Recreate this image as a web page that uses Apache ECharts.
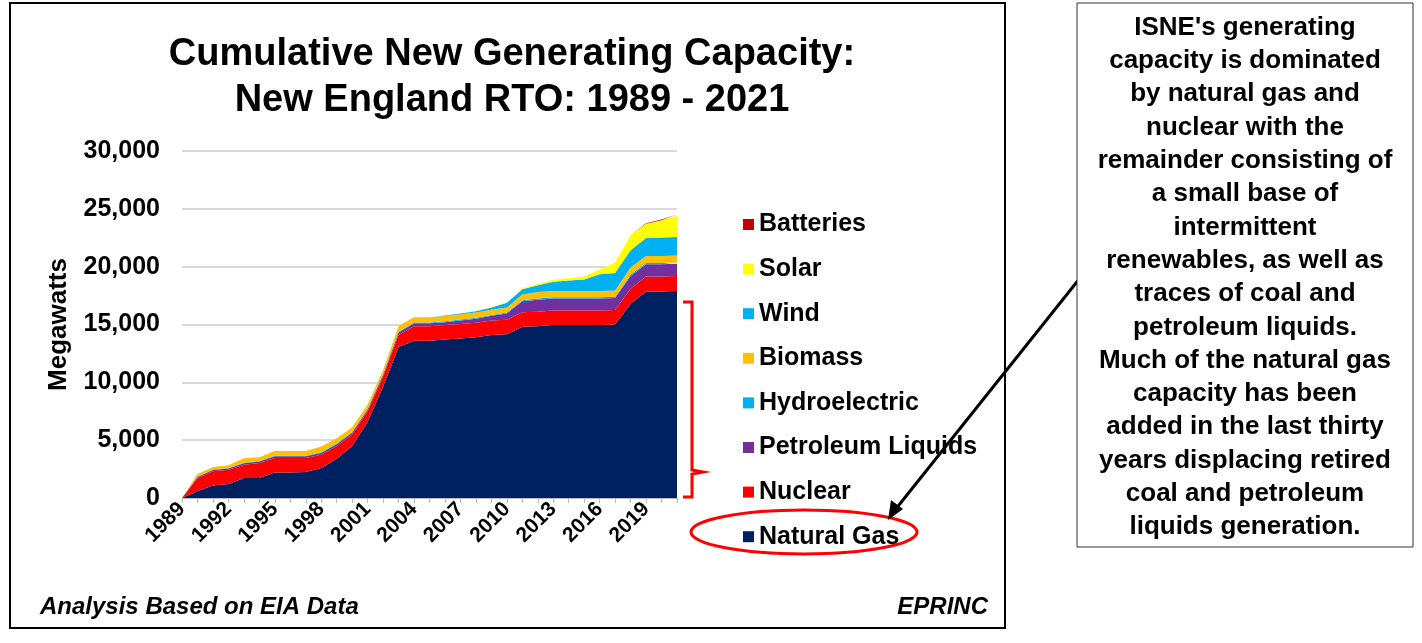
<!DOCTYPE html>
<html><head><meta charset="utf-8">
<script src="https://cdn.jsdelivr.net/npm/echarts@6/dist/echarts.min.js"></script>
<style>html,body{margin:0;padding:0;background:#fff}#c{width:1422px;height:643px}</style>
</head><body><div id="c"></div>
<script>
// 数据
var years = [];
for (var y = 1989; y <= 2021; y++) years.push(String(y));
var naturalGas = [0,600,1070,1200,1730,1730,2200,2200,2250,2600,3400,4500,6600,9650,13050,13600,13600,13700,13800,13900,14100,14150,14800,14850,14950,14950,14950,14950,15000,16800,17850,17850,17900];
var nuclear = [0,1130,1250,1250,1150,1300,1250,1250,1200,1150,1100,1000,900,850,1050,1250,1250,1250,1250,1250,1250,1250,1250,1250,1250,1250,1250,1250,1250,1300,1300,1300,1300];
var petroleum = [0,80,100,100,120,120,150,150,150,150,150,150,150,150,200,250,250,250,300,350,400,550,950,1050,1050,1050,1050,1050,1050,1100,1050,1050,1050];
var hydro = [0,40,40,40,50,50,60,60,60,60,60,60,60,60,70,80,80,80,80,80,80,80,100,100,100,100,100,100,100,120,120,120,120];
var biomass = [0,230,210,250,380,330,400,400,400,500,450,400,380,350,500,450,450,450,450,450,450,450,500,550,550,550,550,550,550,600,600,600,600];
var wind = [0,0,0,0,0,0,0,0,0,0,0,0,0,0,0,0,0,50,80,120,200,400,450,600,800,900,1000,1450,1500,1500,1550,1600,1600];
var solar = [0,0,0,0,0,0,0,0,0,0,0,0,0,0,0,0,0,0,0,10,30,50,50,100,150,200,250,400,900,1300,1250,1500,1800];
var batteries = [0,0,0,0,0,0,0,0,0,0,0,0,0,0,0,0,0,0,0,0,0,0,0,0,0,0,0,0,0,0,30,60,150];
var yTicks = [0,5000,10000,15000,20000,25000,30000];

var chart = echarts.init(document.getElementById('c'));
function s(name, data, color) {
  return {name: name, type: 'line', stack: 'all', data: data, symbol: 'none',
    lineStyle: {width: 0}, areaStyle: {color: color, opacity: 1}, itemStyle: {color: color}};
}
var boxLines = ["ISNE's generating","capacity is dominated","by natural gas and","nuclear with the","remainder consisting of","a small base of","intermittent","renewables, as well as","traces of coal and","petroleum liquids.","Much of the natural gas","capacity has been","added in the last thirty","years displacing retired","coal and petroleum","liquids generation."];
var F = 'Liberation Sans, Arial, sans-serif';
chart.setOption({
  animation: false,
  title: {text: 'Cumulative New Generating Capacity:\nNew England RTO: 1989 - 2021', left: 507, top: 27, textAlign: 'center',
    textStyle: {fontFamily: F, fontSize: 38, fontWeight: 'bold', color: '#000', lineHeight: 46}},
  grid: {left: 182, right: 1422 - 677, top: 151, bottom: 643 - 498},
  legend: {orient: 'vertical', left: 738, top: 207, itemGap: 19.6, itemWidth: 11, itemHeight: 11, icon: 'rect',
    data: ['Batteries','Solar','Wind','Biomass','Hydroelectric','Petroleum Liquids','Nuclear','Natural Gas'],
    textStyle: {fontFamily: F, fontSize: 25, lineHeight: 25, fontWeight: 'bold', color: '#000'}},
  xAxis: {type: 'category', data: years, boundaryGap: false,
    axisLine: {lineStyle: {color: '#bbb'}}, axisTick: {show: true, interval: 0, lineStyle: {color: '#bbb'}},
    axisLabel: {interval: 2, rotate: 45, fontFamily: F, fontSize: 21, fontWeight: 'bold', color: '#000', margin: 8}},
  yAxis: {type: 'value', min: 0, max: 30000, interval: 5000, name: 'Megawatts', nameLocation: 'middle', nameGap: 110,
    nameTextStyle: {fontFamily: F, fontSize: 26, fontWeight: 'bold', color: '#000'},
    splitLine: {lineStyle: {color: '#d9d9d9', width: 2}},
    axisLabel: {fontFamily: F, fontSize: 25, fontWeight: 'bold', color: '#000', margin: 22,
      formatter: function (v) { return yTicks.indexOf(v) >= 0 ? v.toLocaleString('en-US') : ''; }}},
  series: [
    s('Natural Gas', naturalGas, '#002060'),
    s('Nuclear', nuclear, '#ff0000'),
    s('Petroleum Liquids', petroleum, '#7030a0'),
    s('Hydroelectric', hydro, '#00b0f0'),
    s('Biomass', biomass, '#ffc000'),
    s('Wind', wind, '#00b0f0'),
    s('Solar', solar, '#ffff00'),
    s('Batteries', batteries, '#c00000')
  ],
  graphic: [
    {type: 'rect', shape: {x: 10, y: 3, width: 995, height: 625}, style: {fill: 'none', stroke: '#000', lineWidth: 2}},
    {type: 'text', left: 40, top: 595, style: {text: 'Analysis Based on EIA Data', font: 'italic bold 24px ' + F, fill: '#000'}},
    {type: 'text', right: 1422 - 988, top: 595, style: {text: 'EPRINC', font: 'italic bold 24px ' + F, fill: '#000'}},
    {type: 'polyline', shape: {points: [[683,302],[692,302],[692,470],[703,472],[692,474],[692,497],[683,497]]}, style: {fill: 'none', stroke: '#ff0000', lineWidth: 3}},
    {type: 'ellipse', shape: {cx: 804, cy: 532, rx: 113, ry: 22}, style: {fill: 'none', stroke: '#ff0000', lineWidth: 3}},
    {type: 'line', shape: {x1: 1080, y1: 278, x2: 895, y2: 510}, style: {stroke: '#000', lineWidth: 3}},
    {type: 'polygon', shape: {points: [[888,520],[891,500],[903,509]]}, style: {fill: '#000'}},
    {type: 'rect', shape: {x: 1077, y: 3, width: 336, height: 544}, style: {fill: '#fff', stroke: '#333', lineWidth: 1}},
    {type: 'text', x: 1245, y: 11, style: {text: boxLines.join('\n'), textAlign: 'center', font: 'bold 26px ' + F, lineHeight: 33.3, fill: '#000'}}
  ]
});
</script></body></html>
